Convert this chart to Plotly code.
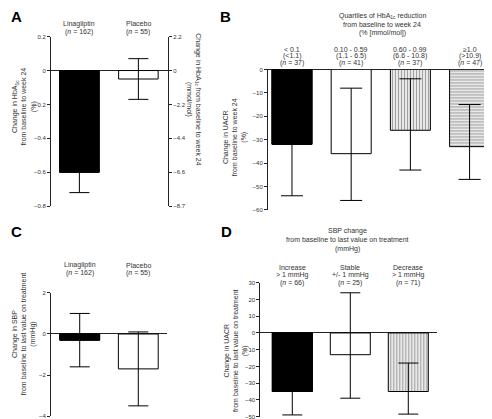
import plotly.graph_objects as go

W, H = 492, 419

# ---------------- data ----------------
A_categories = ["Linagliptin", "Placebo"]
A_n = [162, 55]
A_values = [-0.60, -0.05]
A_err_plus = [0.12, 0.12]
A_err_minus = [0.12, 0.12]
A_left_ticks = [0.2, 0.0, -0.2, -0.4, -0.6, -0.8]
A_left_ticktext = ["0.2", "0", "\u22120.2", "\u22120.4", "\u22120.6", "\u22120.8"]
A_right_ticktext = ["2.2", "0", "\u22122.2", "\u22124.4", "\u22126.6", "\u22128.7"]
A_fill = ["solid", "open"]

B_categories = ["< 0.1", "0.10 - 0.59", "0.60 - 0.99", "\u22651.0"]
B_mmol = ["(<1.1)", "(1.1 - 6.5)", "(6.6 - 10.8)", "(>10.9)"]
B_n = [37, 41, 37, 47]
B_values = [-32, -36, -26, -33]
B_err_plus = [22, 28, 22, 18]
B_err_minus = [22, 20, 17, 14]
B_fill = ["solid", "open", "vstripe", "hstripe"]

C_categories = ["Linagliptin", "Placebo"]
C_n = [162, 55]
C_values = [-0.3, -1.7]
C_err_plus = [1.3, 1.8]
C_err_minus = [1.3, 1.8]
C_fill = ["solid", "open"]

D_categories = ["Increase", "Stable", "Decrease"]
D_sub = ["> 1 mmHg", "+/- 1 mmHg", "> 1 mmHg"]
D_n = [66, 25, 71]
D_values = [-35, -13, -35]
D_err_plus = [14, 37, 17]
D_err_minus = [14, 26, 13.5]
D_fill = ["solid", "open", "vstripe_dark"]

FONT = "Liberation Sans, Arial, Helvetica, sans-serif"
TXT = "#333333"
LINE = "#222222"

STYLE = {
    "solid": ("#000000", "", "#000000"),
    "open": ("#ffffff", "", "#000000"),
    "vstripe": ("#ffffff", "|", "#666666"),
    "hstripe": ("#ffffff", "-", "#777777"),
    "vstripe_dark": ("#ffffff", "|", "#2a2a2a"),
}


def px(x):
    return x / W


def py(y):
    return 1 - y / H


fig = go.Figure()


def add_panel(vals, ep, em, fills, xa, ya, width, cap):
    xs = list(range(len(vals)))
    fig.add_trace(go.Bar(
        x=xs, y=vals, xaxis=xa, yaxis=ya, width=width,
        marker=dict(color=[STYLE[f][0] for f in fills],
                    line=dict(color="#000", width=1),
                    pattern=dict(shape=[STYLE[f][1] for f in fills],
                                 fgcolor=[STYLE[f][2] for f in fills],
                                 size=3, solidity=0.5)),
        error_y=dict(type="data", symmetric=False, array=ep, arrayminus=em,
                     color="#000", thickness=1, width=cap),
        showlegend=False, hoverinfo="skip",
    ))
    # solid black bars drawn again on top: hides the whisker part inside them
    fig.add_trace(go.Bar(
        x=xs, y=[v if f == "solid" else None for v, f in zip(vals, fills)],
        xaxis=xa, yaxis=ya, width=width,
        marker=dict(color="#000", line=dict(color="#000", width=1)),
        showlegend=False, hoverinfo="skip",
    ))


add_panel(A_values, A_err_plus, A_err_minus, A_fill, "x", "y", 0.67, 10)
fig.add_trace(go.Scatter(x=[0], y=[0], xaxis="x", yaxis="y2", mode="markers",
                         marker=dict(opacity=0), showlegend=False, hoverinfo="skip"))
add_panel(B_values, B_err_plus, B_err_minus, B_fill, "x2", "y3", 0.676, 11)
add_panel(C_values, C_err_plus, C_err_minus, C_fill, "x3", "y4", 0.68, 10)
add_panel(D_values, D_err_plus, D_err_minus, D_fill, "x4", "y5", 0.69, 10)

xcommon = dict(visible=False, showgrid=False, zeroline=False, fixedrange=True)
ycommon = dict(showgrid=False, showline=True, linecolor=LINE, linewidth=1,
               ticks="outside", ticklen=3, tickwidth=1, tickcolor=LINE,
               tickfont=dict(size=6, color=TXT, family=FONT),
               zeroline=True, zerolinecolor=LINE, zerolinewidth=1, fixedrange=True)

fig.update_layout(
    width=W, height=H, margin=dict(l=0, r=0, t=0, b=0),
    paper_bgcolor="white", plot_bgcolor="rgba(0,0,0,0)",
    font=dict(family=FONT, color=TXT, size=7),
    barmode="overlay",
    xaxis=dict(domain=[px(43), px(160)], range=[-0.481, 1.502], anchor="y", **xcommon),
    yaxis=dict(domain=[py(198), py(26)], range=[-0.8, 0.2], anchor="x",
               tickvals=A_left_ticks, ticktext=A_left_ticktext, **ycommon),
    yaxis2=dict(domain=[py(198), py(26)], range=[-0.8, 0.2], anchor="x",
                overlaying="y", side="right",
                tickvals=A_left_ticks, ticktext=A_right_ticktext,
                **{**ycommon, "zeroline": False}),
    xaxis2=dict(domain=[px(260), px(488)], range=[-0.405, 3.446], anchor="y3", **xcommon),
    yaxis3=dict(domain=[py(201.7), py(59.3)], range=[-60, 0], anchor="x2",
                dtick=10, **ycommon),
    xaxis3=dict(domain=[px(43), px(159)], range=[-0.49, 1.49], anchor="y4", **xcommon),
    yaxis4=dict(domain=[py(411), py(286)], range=[-4, 2], anchor="x3",
                dtick=2, **ycommon),
    xaxis4=dict(domain=[px(252.3), px(429)], range=[-0.552, 2.495], anchor="y5", **xcommon),
    yaxis5=dict(domain=[py(411.5), py(275.7)], range=[-50, 30], anchor="x4",
                dtick=10, **ycommon),
)

ann = []


def text(x, y, s, xref="paper", size=7, angle=0, xanchor="center", bold=False):
    ann.append(dict(x=x, y=y, xref=xref, yref="paper", text=("<b>%s</b>" % s) if bold else s,
                    showarrow=False, xanchor=xanchor, yanchor="middle",
                    textangle=angle, align="center",
                    font=dict(size=size, color="#000" if bold else TXT, family=FONT)))


def lines(x, y0, spacing, rows, xref, size=7):
    for k, r in enumerate(rows):
        text(x, py(y0 + k * spacing), r, xref=xref, size=size)


# panel letters
text(px(1), py(6), "A", size=15, xanchor="left", bold=True)
text(px(210), py(6), "B", size=15, xanchor="left", bold=True)
text(px(1), py(224), "C", size=15, xanchor="left", bold=True)
text(px(211), py(224), "D", size=15, xanchor="left", bold=True)

# category labels
for i, c in enumerate(A_categories):
    lines(i, 13, 8, [c, "(<i>n</i> = %d)" % A_n[i]], "x")
for i, c in enumerate(B_categories):
    lines(i, 38.7, 7.2, [c, B_mmol[i], "(<i>n</i> = %d)" % B_n[i]], "x2")
for i, c in enumerate(C_categories):
    lines(i, 258, 8, [c, "(<i>n</i> = %d)" % C_n[i]], "x3")
for i, c in enumerate(D_categories):
    lines(i, 260, 8, [c, D_sub[i], "(<i>n</i> = %d)" % D_n[i]], "x4")

# group titles
lines(px(374), 5, 8.6, ["Quartiles of HbA<sub>1c</sub> reduction", "from baseline to week 24",
                         "(% [mmol/mol])"], "paper")
lines(px(339), 223, 9, ["SBP change", "from baseline to last value on treatment", "(mmHg)"], "paper")

# axis titles
text(px(16), py(97), "Change in HbA<sub>1c</sub><br>from baseline to week 24<br>(%)", angle=-90)
text(px(185.5), py(90), "Change in HbA<sub>1c</sub> from baseline to week 24<br>(mmol/mol)", angle=90)
text(px(227), py(128), "Change in UACR<br>from baseline to week 24<br>(%)", angle=-90)
text(px(16), py(328), "Change in SBP<br>from baseline to last value on treatment<br>(mmHg)", angle=-90)
text(px(228), py(345), "Change in UACR<br>from baseline to last value on treatment<br>(%)", angle=-90)

fig.update_layout(annotations=ann)
fig.write_html("out.html")
